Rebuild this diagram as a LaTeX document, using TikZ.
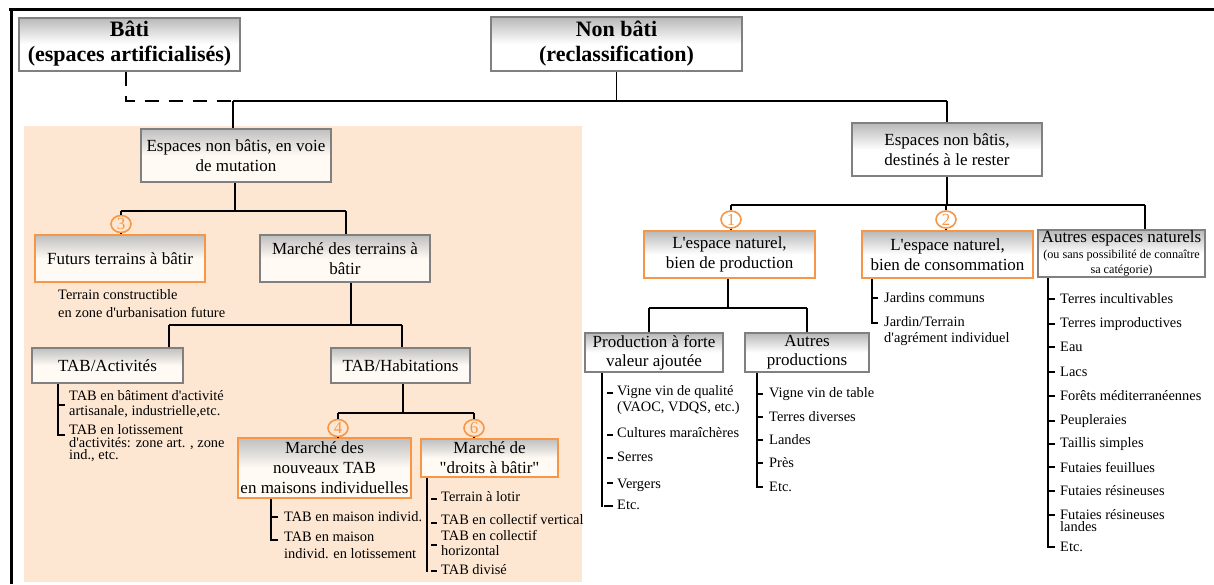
\documentclass[tikz,border=0pt]{standalone}
\usepackage{fontspec}
\setmainfont{Liberation Serif}[Ligatures=TeXOff]
\usetikzlibrary{shapes.geometric}
\definecolor{peach}{RGB}{253,231,210}
\definecolor{boxgray}{RGB}{128,128,128}
\definecolor{orng}{RGB}{247,150,70}
\definecolor{cream}{RGB}{255,250,243}
\pgfdeclareverticalshading{grayshade}{100bp}{color(0bp)=(white); color(25bp)=(white); color(50bp)=(white); color(75bp)=(black!28); color(100bp)=(black!28)}
\pgfdeclareverticalshading{creamshade}{100bp}{color(0bp)=(cream); color(25bp)=(cream); color(50bp)=(cream); color(75bp)=(black!25); color(100bp)=(black!25)}
\begin{document}
\begin{tikzpicture}[x=1pt,y=-1pt,
  box/.style={draw=boxgray, line width=2pt, shading=grayshade, inner sep=0pt, align=center, font=\fontsize{17}{20}\selectfont},
  obox/.style={box, draw=orng},
  cbox/.style={box, shading=creamshade},
  ocbox/.style={cbox, draw=orng},
  titlebox/.style={box, font=\bfseries\fontsize{22}{25}\selectfont},
  link/.style={line width=1.8pt, black},
  dashline/.style={line width=1.8pt, black, dash pattern=on 14pt off 10pt},
  tick/.style={line width=1.6pt, black},
  num/.style={ellipse, draw=orng, line width=1.6pt, minimum width=20pt, minimum height=17pt, inner sep=0pt, text=orng, font=\fontsize{17}{17}\selectfont},
  item/.style={anchor=west, inner sep=0pt, align=left, font=\fontsize{14.4}{15}\selectfont},
]
\useasboundingbox (0,0) rectangle (1214,584);
\fill[white] (0,0) rectangle (1214,584);
\fill[peach] (24,126) rectangle (582,582);
\draw[line width=3pt] (9,9.5) -- (1214,9.5);
\draw[line width=3pt] (11,8) -- (11,584);

% boxes
\node[titlebox, minimum width=221pt, minimum height=53pt] (bati) at (129.5,44) {Bâti\\(espaces artificialisés)};
\node[titlebox, minimum width=251pt, minimum height=54pt] (nonbati) at (616.5,44) {Non bâti\\(reclassification)};
\node[cbox, minimum width=190pt, minimum height=53pt] (mutation) at (236,155.5) {Espaces non bâtis, en voie\\de mutation};
\node[box, minimum width=190pt, minimum height=53pt] (rester) at (947,149.5) {Espaces non bâtis,\\destinés à le rester};
\node[ocbox, minimum width=170pt, minimum height=47pt] (futurs) at (120,258.5) {Futurs terrains à bâtir};
\node[cbox, minimum width=170pt, minimum height=47pt] (marche) at (345,258.5) {Marché des terrains à\\bâtir};
\node[cbox, minimum width=151pt, minimum height=35pt] (tabact) at (107.5,365.5) {TAB/Activités};
\node[cbox, minimum width=139pt, minimum height=35pt] (tabhab) at (400.5,365.5) {TAB/Habitations};
\node[ocbox, minimum width=173pt, minimum height=60pt] (nouveaux) at (324.5,468) {Marché des\\nouveaux TAB\\en maisons individuelles};
\node[ocbox, minimum width=137pt, minimum height=38pt] (droits) at (489.5,458) {Marché de\\"droits à bâtir"};
\node[obox, minimum width=171pt, minimum height=47pt] (prod) at (729.5,254.5) {L'espace naturel,\\bien de production};
\node[obox, minimum width=171pt, minimum height=47pt] (conso) at (947.5,254.5) {L'espace naturel,\\bien de consommation};
\node[box, minimum width=167pt, minimum height=47pt, font=\fontsize{12.2}{15.5}\selectfont] (autres) at (1121.5,253.5) {{\fontsize{17}{15.5}\selectfont Autres espaces naturels}\\(ou sans possibilité de connaître\\sa catégorie)};
\node[box, minimum width=138pt, minimum height=39pt, font=\fontsize{17}{19}\selectfont] (forte) at (654,352.5) {Production à forte\\valeur ajoutée};
\node[box, minimum width=124pt, minimum height=39pt, font=\fontsize{17}{19}\selectfont] (autresprod) at (807,352.5) {Autres\\productions};

% numbers
\node[num] (n3) at (121,224) {3};
\node[num] (n4) at (338,428) {4};
\node[num] (n6) at (474,428) {6};
\node[num] (n1) at (731,219.5) {1};
\node[num] (n2) at (946,219.5) {2};

% junctions
\coordinate (hL) at (233,101);
\coordinate (hM) at (616.5,101);
\coordinate (hR) at (947,101);
\coordinate (dd) at (126,101);
\coordinate (m1) at (235,211);
\coordinate (m3) at (121,211);
\coordinate (m4) at (346,211);
\coordinate (k1) at (351,325);
\coordinate (k2) at (169,325);
\coordinate (k3) at (402,325);
\coordinate (p1) at (403,413);
\coordinate (p2) at (338,413);
\coordinate (p3) at (474,413);
\coordinate (r1) at (947,205);
\coordinate (r2) at (731,205);
\coordinate (r3) at (1145,205);
\coordinate (q1) at (728,308);
\coordinate (q2) at (649,308);
\coordinate (q3) at (807,308);

% connectors
\draw[link] (nonbati) -- (hM);
\draw[link] (hL) -- (hR);
\draw[link] (hL) -- (hL |- mutation.north);
\draw[link] (hR) -- (rester);
\draw[dashline] (bati.south -| dd) -- (dd) -- (hL);
\draw[link] (mutation.south -| m1) -- (m1);
\draw[link] (m3) -- (m4);
\draw[link] (m3) -- (n3);
\draw[link] (n3) -- (n3 |- futurs.north);
\draw[link] (m4) -- (m4 |- marche.north);
\draw[link] (marche.south -| k1) -- (k1);
\draw[link] (k2) -- (k3);
\draw[link] (k2) -- (k2 |- tabact.north);
\draw[link] (k3) -- (k3 |- tabhab.north);
\draw[link] (tabhab.south -| p1) -- (p1);
\draw[link] (p2) -- (p3);
\draw[link] (p2) -- (n4);
\draw[link] (p3) -- (n6);
\draw[link] (n4) -- (n4 |- nouveaux.north);
\draw[link] (n6) -- (n6 |- droits.north);
\draw[link] (rester) -- (r1);
\draw[link] (r2) -- (r3);
\draw[link] (r2) -- (n1);
\draw[link] (n1) -- (n1 |- prod.north);
\draw[link] (n2 |- r1) -- (n2);
\draw[link] (n2) -- (n2 |- conso.north);
\draw[link] (r3) -- (r3 |- autres.north);
\draw[link] (prod.south -| q1) -- (q1);
\draw[link] (q2) -- (q3);
\draw[link] (q2) -- (q2 |- forte.north);
\draw[link] (q3) -- (autresprod);

% texts
\node[item, font=\fontsize{14.4}{18}\selectfont] (tc) at (58,304) {Terrain constructible\\en zone d'urbanisation future};
\node[item] (act1) at (69,404.5) {TAB en bâtiment d'activité\\artisanale, industrielle,etc.};
\node[item, font=\fontsize{14.4}{12.5}\selectfont] (act2) at (69,443.5) {TAB en lotissement\\d'activités: zone art. , zone\\ind., etc.};
\node[item] (mi1) at (284,517) {TAB en maison individ.};
\node[item, font=\fontsize{14.4}{17}\selectfont] (mi2) at (284,545.5) {TAB en maison\\individ. en lotissement};
\node[item] (dr1) at (441,497) {Terrain à lotir};
\node[item] (dr2) at (441,519) {TAB en collectif vertical};
\node[item] (dr3) at (441,542.5) {TAB en collectif\\horizontal};
\node[item] (dr4) at (441,570) {TAB divisé};
\node[item, font=\fontsize{14.4}{16}\selectfont] (f1) at (617,400) {Vigne vin de qualité\\(VAOC, VDQS, etc.)};
\node[item] (f2) at (617,433) {Cultures maraîchères};
\node[item] (f3) at (617,457) {Serres};
\node[item] (f4) at (617,485) {Vergers};
\node[item] (f5) at (617,505) {Etc.};
\node[item] (a1) at (769,394) {Vigne vin de table};
\node[item] (a2) at (769,417) {Terres diverses};
\node[item] (a3) at (769,440) {Landes};
\node[item] (a4) at (769,463) {Près};
\node[item] (a5) at (769,487) {Etc.};
\node[item] (j1) at (884,298) {Jardins communs};
\node[item, font=\fontsize{14.4}{16}\selectfont] (j2) at (884,331) {Jardin/Terrain\\d'agrément individuel};
\node[item] (e1) at (1060,299) {Terres incultivables};
\node[item] (e2) at (1060,324) {Terres improductives};
\node[item] (e3) at (1060,347) {Eau};
\node[item] (e4) at (1060,372) {Lacs};
\node[item] (e5) at (1060,396) {Forêts méditerranéennes};
\node[item] (e6) at (1060,421) {Peupleraies};
\node[item] (e7) at (1060,444) {Taillis simples};
\node[item] (e8) at (1060,467) {Futaies feuillues};
\node[item] (e9) at (1060,491) {Futaies résineuses};
\node[item, font=\fontsize{14.4}{12}\selectfont] (e10) at (1060,520.5) {Futaies résineuses\\landes};
\node[item] (e11) at (1060,547) {Etc.};

% brackets
\coordinate (bA) at (58,435);
\draw[link] (tabact.south -| bA) -- (bA) -- ++(7,0);
\draw[tick] (58,405) -- ++(7,0);
\coordinate (bN) at (271,540);
\draw[link] (nouveaux.south -| bN) -- (bN) -- ++(7,0);
\draw[tick] (271,517) -- ++(7,0);
\coordinate (bD) at (427,572);
\draw[link] (droits.south -| bD) -- (bD);
\foreach \yy in {499,523,545,571} \draw[tick] (431,\yy) -- ++(6,0);
\coordinate (bF) at (602,507);
\draw[link] (forte.south -| bF) -- (bF);
\foreach \yy in {393,435,458,483} \draw[tick] (607,\yy) -- ++(6,0);
\draw[tick] (604,506) -- ++(9,0);
\coordinate (bP) at (757,487);
\draw[link] (autresprod.south -| bP) -- (bP) -- ++(6,0);
\foreach \yy in {394,417,440,463} \draw[tick] (757,\yy) -- ++(6,0);
\coordinate (bC) at (872,323);
\draw[link] (conso.south -| bC) -- (bC) -- ++(6,0);
\draw[tick] (872,298) -- ++(6,0);
\coordinate (bE) at (1048,547);
\draw[link] (autres.south -| bE) -- (bE) -- ++(7,0);
\foreach \yy in {299,324,347,372,396,421,444,467,491,515} \draw[tick] (1048,\yy) -- ++(7,0);
\end{tikzpicture}
\end{document}
